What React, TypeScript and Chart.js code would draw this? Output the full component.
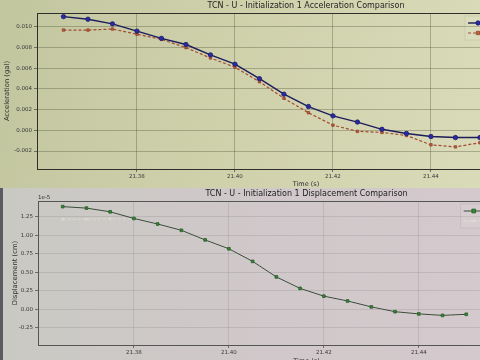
import React, { useEffect, useRef } from "react";
import { Chart, registerables } from "chart.js";

Chart.register(...registerables);

const FONT = "'DejaVu Sans', 'Liberation Sans', sans-serif";

// ---- data ----
const timeS = [21.365, 21.37, 21.375, 21.38, 21.385, 21.39, 21.395, 21.4, 21.405, 21.41, 21.415, 21.42, 21.425, 21.43, 21.435, 21.44, 21.445, 21.45];
const accelActual = [0.011, 0.01075, 0.0103, 0.0096, 0.0089, 0.0083, 0.0073, 0.0064, 0.005, 0.0035, 0.0023, 0.0014, 0.0008, 0.0001, -0.0003, -0.0006, -0.0007, -0.0007];
const accelPredicted = [0.0097, 0.0097, 0.0098, 0.0093, 0.0088, 0.008, 0.007, 0.0061, 0.0047, 0.0031, 0.0017, 0.0005, -0.0001, -0.0002, -0.0005, -0.0014, -0.0016, -0.0012];
const dispActual = [1.39e-5, 1.37e-5, 1.32e-5, 1.23e-5, 1.155e-5, 1.07e-5, 0.94e-5, 0.82e-5, 0.65e-5, 0.44e-5, 0.285e-5, 0.18e-5, 0.115e-5, 0.035e-5, -0.03e-5, -0.06e-5, -0.08e-5, -0.065e-5];
const dispPredicted = [1.22e-5, 1.22e-5, 1.225e-5, 1.225e-5, 1.15e-5, 1.065e-5, 0.935e-5, 0.815e-5, 0.645e-5, 0.435e-5, 0.28e-5, 0.175e-5, 0.11e-5, 0.03e-5, -0.035e-5, -0.065e-5, -0.085e-5, -0.07e-5];
const timeTicks = [21.38, 21.4, 21.42, 21.44, 21.46];
const accelTicks = [-0.002, 0, 0.002, 0.004, 0.006, 0.008, 0.01];
const dispTicks = [-0.25e-5, 0, 0.25e-5, 0.5e-5, 0.75e-5, 1.0e-5, 1.25e-5];
const accelTitle = "TCN - U - Initialization 1 Acceleration Comparison";
const dispTitle = "TCN - U - Initialization 1 Displacement Comparison";
const accelLabels = ["True Acceleration", "Predicted Acceleration"];
const dispLabels = ["True Displacement", "Predicted Displacement"];
const xTitle = "Time (s)";
const accelYTitle = "Acceleration (gal)";
const dispYTitle = "Displacement (cm)";
const dispOffsetText = "1e-5";

const pts = (ys: number[]) => timeS.map((t, i) => ({ x: t, y: ys[i] }));

function drawMarker(ctx: CanvasRenderingContext2D, style: string, x: number, y: number, r: number, fill: string, stroke: string) {
  ctx.save();
  ctx.fillStyle = fill;
  ctx.strokeStyle = stroke;
  ctx.lineWidth = 0.8;
  ctx.setLineDash([]);
  ctx.beginPath();
  if (style === "rect") {
    ctx.rect(x - r, y - r, 2 * r, 2 * r);
  } else {
    ctx.arc(x, y, r, 0, Math.PI * 2);
  }
  ctx.fill();
  ctx.stroke();
  ctx.restore();
}

const framePlugin = (color: string) => ({
  id: "frame",
  beforeDatasetsDraw(chart: any) {
    const { ctx, chartArea } = chart;
    ctx.save();
    ctx.strokeStyle = color;
    ctx.lineWidth = 1;
    ctx.strokeRect(chartArea.left + 0.5, chartArea.top + 0.5, chartArea.right - chartArea.left - 1, chartArea.bottom - chartArea.top);
    ctx.restore();
  },
});

const insideLegend = {
  id: "insideLegend",
  afterDatasetsDraw(chart: any) {
    const { ctx, chartArea } = chart;
    const ds = chart.data.datasets;
    ctx.save();
    ctx.font = `6.5px ${FONT}`;
    const pad = 3, handle = 20, gap = 5, rowH = 10;
    const textW = Math.max(...ds.map((d: any) => ctx.measureText(d.label).width));
    const w = pad + handle + gap + textW + pad;
    const h = pad * 2 + rowH * ds.length - 2;
    const x0 = chartArea.right - 6 - w;
    const y0 = chartArea.top + 3;
    ctx.fillStyle = "rgba(255,255,255,0.08)";
    ctx.strokeStyle = "rgba(0,0,0,0.08)";
    ctx.lineWidth = 0.8;
    ctx.fillRect(x0, y0, w, h);
    ctx.strokeRect(x0, y0, w, h);
    ds.forEach((d: any, i: number) => {
      const cy = y0 + pad + rowH / 2 + i * rowH - 1;
      ctx.save();
      ctx.strokeStyle = d.borderColor;
      ctx.lineWidth = d.borderWidth;
      ctx.setLineDash(d.borderDash || []);
      ctx.beginPath();
      ctx.moveTo(x0 + pad, cy);
      ctx.lineTo(x0 + pad + handle, cy);
      ctx.stroke();
      ctx.restore();
      drawMarker(ctx, d.pointStyle, x0 + pad + handle / 2, cy, d.pointRadius, d.pointBackgroundColor, d.pointBorderColor);
      ctx.fillStyle = "#2a2a2a";
      ctx.textBaseline = "middle";
      ctx.textAlign = "left";
      ctx.fillText(d.label, x0 + pad + handle + gap, cy);
    });
    ctx.restore();
  },
};

const offsetTextPlugin = (text: string) => ({
  id: "offsetText",
  afterDraw(chart: any) {
    const { ctx, chartArea } = chart;
    ctx.save();
    ctx.font = `5.5px ${FONT}`;
    ctx.fillStyle = "#333";
    ctx.textAlign = "left";
    ctx.textBaseline = "bottom";
    ctx.fillText(text, chartArea.left, chartArea.top - 1);
    ctx.restore();
  },
});

function buildOptions(p: {
  title: string; xMin: number; xMax: number; yMin: number; yMax: number; yTicks: number[];
  yFmt: (v: number) => string; yTitle: string; yWidth: number; xHeight: number; yTitlePad: number;
  xTitlePadBottom: number; gridColor: string; borderColor: string;
}) {
  return {
    responsive: false,
    animation: false as const,
    layout: { padding: { left: 0, right: 15, top: 0, bottom: 0 } },
    plugins: {
      legend: { display: false },
      tooltip: { enabled: false },
      title: {
        display: true,
        text: p.title,
        fullSize: false,
        color: "#1e1e1e",
        font: { family: FONT, size: 8, weight: "normal" as const },
        padding: { top: 1, bottom: 2.4 },
      },
    },
    scales: {
      x: {
        type: "linear" as const,
        min: p.xMin,
        max: p.xMax,
        afterBuildTicks: (s: any) => { s.ticks = timeTicks.map((v) => ({ value: v })); },
        afterFit: (s: any) => { s.height = p.xHeight; },
        ticks: {
          autoSkip: false, maxRotation: 0, padding: 1, color: "#383838",
          font: { family: FONT, size: 5.5 },
          callback: (v: any) => Number(v).toFixed(2),
        },
        grid: { color: p.gridColor, lineWidth: 0.8, tickLength: 3, tickColor: "#555" },
        border: { display: true, color: p.borderColor, width: 1 },
        title: {
          display: true, text: xTitle, color: "#2e2e2e",
          font: { family: FONT, size: 6.5 },
          padding: { top: 0, bottom: p.xTitlePadBottom },
        },
      },
      y: {
        type: "linear" as const,
        min: p.yMin,
        max: p.yMax,
        afterBuildTicks: (s: any) => { s.ticks = p.yTicks.map((v) => ({ value: v })); },
        afterFit: (s: any) => { s.width = p.yWidth; },
        ticks: {
          autoSkip: false, padding: 2, color: "#383838",
          font: { family: FONT, size: 5.5 },
          callback: (v: any) => p.yFmt(Number(v)),
        },
        grid: { color: p.gridColor, lineWidth: 0.8, tickLength: 3, tickColor: "#555" },
        border: { display: true, color: p.borderColor, width: 1 },
        title: {
          display: true, text: p.yTitle, color: "#2e2e2e",
          font: { family: FONT, size: 6.8 },
          padding: { top: p.yTitlePad, bottom: 0 },
        },
      },
    },
  };
}

export default function App() {
  const topRef = useRef<HTMLCanvasElement>(null);
  const botRef = useRef<HTMLCanvasElement>(null);

  useEffect(() => {
    const top = new Chart(topRef.current as HTMLCanvasElement, {
      type: "line",
      data: {
        datasets: [
          {
            label: accelLabels[0], data: pts(accelActual),
            borderColor: "#1c1c5a", borderWidth: 1.4, tension: 0,
            pointStyle: "circle", pointRadius: 2.2, pointBackgroundColor: "#2a2aa6", pointBorderColor: "#1c1c6a", pointBorderWidth: 0.8,
          } as any,
          {
            label: accelLabels[1], data: pts(accelPredicted),
            borderColor: "#a34b33", borderWidth: 1.2, borderDash: [3, 2], tension: 0,
            pointStyle: "rect", pointRadius: 1.7, pointBackgroundColor: "#b8633f", pointBorderColor: "#94402c", pointBorderWidth: 0.8,
          } as any,
        ],
      },
      options: buildOptions({
        title: accelTitle, xMin: 21.3596, xMax: 21.4694, yMin: -0.00374, yMax: 0.01135, yTicks: accelTicks,
        yFmt: (v) => (Math.abs(v) < 1e-12 ? "0.000" : v.toFixed(3)), yTitle: accelYTitle, yWidth: 37, xHeight: 19,
        yTitlePad: 3, xTitlePadBottom: 0, gridColor: "rgba(70,74,45,0.42)", borderColor: "#2e2e2a",
      }) as any,
      plugins: [framePlugin("#2e2e2a"), insideLegend],
    });

    const bot = new Chart(botRef.current as HTMLCanvasElement, {
      type: "line",
      data: {
        datasets: [
          {
            label: dispLabels[0], data: pts(dispActual),
            borderColor: "#3a4a3a", borderWidth: 1, tension: 0,
            pointStyle: "rect", pointRadius: 1.9, pointBackgroundColor: "#2f8c2f", pointBorderColor: "#2a5a2a", pointBorderWidth: 0.8,
          } as any,
          {
            label: dispLabels[1], data: pts(dispPredicted),
            borderColor: "rgba(236,240,228,0.45)", borderWidth: 1, borderDash: [3, 2], tension: 0,
            pointStyle: "circle", pointRadius: 1.3, pointBackgroundColor: "rgba(228,236,220,0.45)", pointBorderColor: "rgba(210,220,205,0.45)", pointBorderWidth: 0.6,
          } as any,
        ],
      },
      options: buildOptions({
        title: dispTitle, xMin: 21.3598, xMax: 21.4729, yMin: -0.48e-5, yMax: 1.466e-5, yTicks: dispTicks,
        yFmt: (v) => (Math.abs(v) < 1e-12 ? "0.00" : (v / 1e-5).toFixed(2)), yTitle: dispYTitle, yWidth: 38, xHeight: 25,
        yTitlePad: 11, xTitlePadBottom: 5, gridColor: "rgba(90,88,90,0.2)", borderColor: "#555",
      }) as any,
      plugins: [framePlugin("#555"), insideLegend, offsetTextPlugin(dispOffsetText)],
    });

    return () => {
      top.destroy();
      bot.destroy();
    };
  }, []);

  return (
    <div style={{ position: "absolute", left: 0, top: 0, width: 480, height: 360, overflow: "hidden", background: "#cfcfc4" }}>
      <div style={{ position: "absolute", left: 0, top: 0, width: 590, height: 188, background: "linear-gradient(100deg, #c2c69f 0%, #cfd1ab 40%, #d9dab8 80%)" }}>
        <canvas ref={topRef} width={590} height={188} style={{ display: "block" }} />
      </div>
      <div style={{ position: "absolute", left: 0, top: 188, width: 590, height: 182, background: "linear-gradient(90deg, #c9c9c3 0%, #d0c8ca 45%, #d4c9cc 80%)" }}>
        <canvas ref={botRef} width={590} height={182} style={{ display: "block" }} />
      </div>
      <div style={{ position: "absolute", left: 0, top: 188, width: 3, height: 172, background: "#5a5a62" }} />
    </div>
  );
}
